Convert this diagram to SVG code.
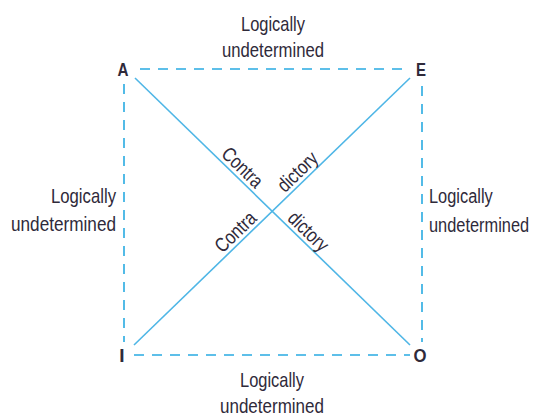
<svg xmlns="http://www.w3.org/2000/svg" width="537" height="420" viewBox="0 0 537 420">
<style>
.t{font-family:"Liberation Sans",Arial,sans-serif;font-size:21px;fill:#2f2a3a}
.r{font-family:"Liberation Sans",Arial,sans-serif;font-size:20px;fill:#2f2a3a}
.v{font-family:"Liberation Sans",Arial,sans-serif;font-size:19px;font-weight:bold;fill:#2f2a3a}
.d{stroke:#29abe2;stroke-width:1.6;stroke-dasharray:10 8;fill:none}
.s{stroke:#4fb6e6;stroke-width:1.6;fill:none}
</style>
<rect width="537" height="420" fill="#ffffff"/>
<g id="connectors">
<line class="d" x1="140" y1="69" x2="410" y2="69"/>
<line class="d" x1="134" y1="355" x2="410" y2="355"/>
<line class="d" x1="124" y1="84" x2="124" y2="342"/>
<line class="d" x1="422" y1="86" x2="422" y2="342"/>
<line class="s" x1="135" y1="78" x2="410" y2="345"/>
<line class="s" x1="410" y1="78" x2="134" y2="345"/>
<text class="r" text-anchor="middle" textLength="49" lengthAdjust="spacingAndGlyphs" transform="translate(235,175.2) rotate(44.15)" y="-4">Contra</text>
<text class="r" text-anchor="middle" textLength="48" lengthAdjust="spacingAndGlyphs" transform="translate(301,239.2) rotate(44.15)" y="-4">dictory</text>
<text class="r" text-anchor="middle" textLength="49" lengthAdjust="spacingAndGlyphs" transform="translate(243,239.6) rotate(-44.05)" y="-4">Contra</text>
<text class="r" text-anchor="middle" textLength="48" lengthAdjust="spacingAndGlyphs" transform="translate(305,179.4) rotate(-44.05)" y="-4">dictory</text>
</g>
<g id="A"><text class="v" x="123" y="76" text-anchor="middle" textLength="11" lengthAdjust="spacingAndGlyphs">A</text></g>
<g id="E"><text class="v" x="421" y="76" text-anchor="middle" textLength="10" lengthAdjust="spacingAndGlyphs">E</text></g>
<g id="I"><text class="v" x="122" y="362" text-anchor="middle">I</text></g>
<g id="O"><text class="v" x="420" y="362" text-anchor="middle" textLength="13" lengthAdjust="spacingAndGlyphs">O</text></g>
<g id="top-label">
<text class="t" x="273" y="31" text-anchor="middle" textLength="64" lengthAdjust="spacingAndGlyphs">Logically</text>
<text class="t" x="273" y="57" text-anchor="middle" textLength="102" lengthAdjust="spacingAndGlyphs">undetermined</text>
</g>
<g id="left-label">
<text class="t" x="116" y="203" text-anchor="end" textLength="65" lengthAdjust="spacingAndGlyphs">Logically</text>
<text class="t" x="116" y="231" text-anchor="end" textLength="105" lengthAdjust="spacingAndGlyphs">undetermined</text>
</g>
<g id="right-label" transform="translate(429,0) scale(0.78,1)">
<text class="t" x="0" y="203" text-anchor="start">Logically</text>
<text class="t" x="0" y="232" text-anchor="start">undetermined</text>
</g>
<g id="bottom-label">
<text class="t" x="272" y="387" text-anchor="middle" textLength="64" lengthAdjust="spacingAndGlyphs">Logically</text>
<text class="t" x="272" y="413" text-anchor="middle" textLength="104" lengthAdjust="spacingAndGlyphs">undetermined</text>
</g>
</svg>
